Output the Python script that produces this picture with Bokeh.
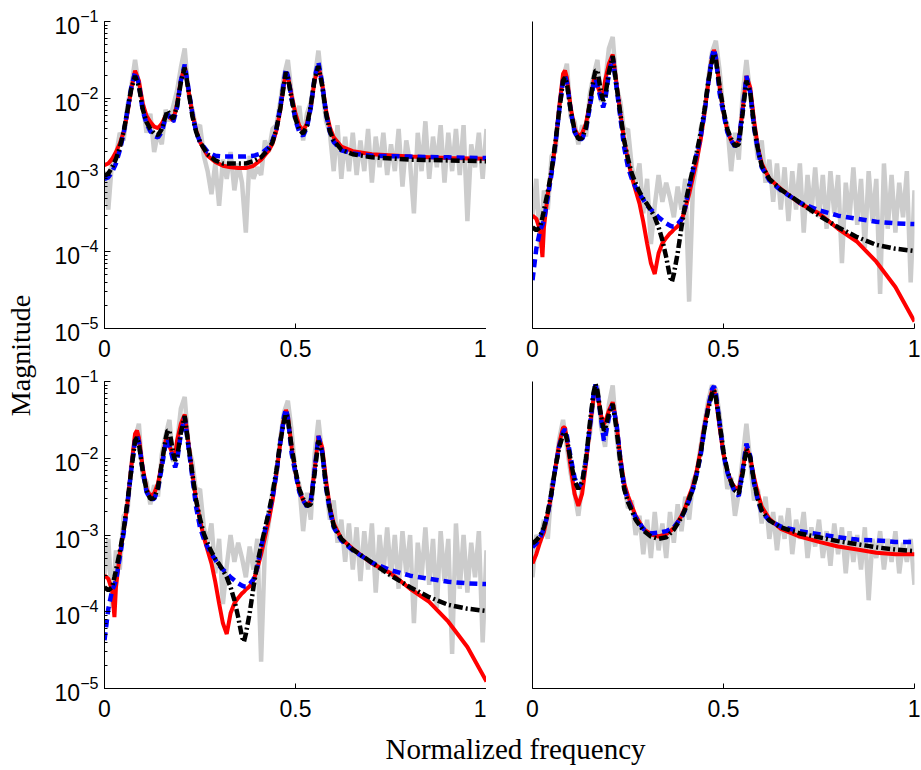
from bokeh.plotting import figure
from bokeh.models import Range1d, FixedTicker, LogTicker, Label
from bokeh.layouts import row, column
from bokeh.embed import file_html
from bokeh.resources import INLINE

# ---------------- data (log10 of magnitude) ----------------
freq_gray = [i / 100 for i in range(101)]

# top-left panel
tl_gray = [-2.95, -3.45, -2.80, -2.75, -2.45, -2.55, -2.10, -1.85, -1.50, -1.85,
           -2.05, -2.45, -2.20, -2.70, -2.45, -2.60, -2.15, -2.30, -2.10, -1.90,
           -1.60, -1.35, -1.95, -2.15, -2.40, -2.35, -2.75, -2.95, -3.25, -2.85,
           -3.40, -2.80, -3.05, -2.70, -3.20, -2.85, -3.10, -3.75, -2.75, -3.05,
           -2.90, -3.00, -2.55, -2.70, -2.40, -2.35, -2.05, -1.70, -1.50, -1.95,
           -2.25, -2.10, -2.55, -2.20, -2.05, -1.75, -1.38, -1.85, -2.30, -2.45,
           -2.95, -2.35, -3.05, -2.50, -2.95, -2.45, -3.00, -2.55, -2.95, -2.40,
           -3.10, -2.50, -2.90, -2.45, -3.00, -2.60, -2.95, -2.40, -3.15, -2.55,
           -2.85, -3.50, -2.45, -2.95, -2.30, -3.05, -2.50, -2.90, -2.35, -3.10,
           -2.45, -2.95, -2.40, -3.00, -2.35, -3.60, -2.60, -2.90, -2.45, -3.05,
           -2.40]
tl_freq = [0, 0.01, 0.02, 0.03, 0.04, 0.05, 0.06, 0.07, 0.08, 0.09, 0.10, 0.11,
           0.12, 0.13, 0.14, 0.15, 0.16, 0.165, 0.17, 0.18, 0.19, 0.20, 0.21, 0.22,
           0.23, 0.24, 0.25, 0.27, 0.29, 0.31, 0.33, 0.35, 0.37, 0.39, 0.41, 0.43,
           0.44, 0.45, 0.46, 0.47, 0.475, 0.48, 0.49, 0.50, 0.51, 0.52, 0.53, 0.54,
           0.55, 0.56, 0.57, 0.58, 0.59, 0.60, 0.62, 0.65, 0.70, 0.80, 0.90, 1.0]
tl_red = [-2.87, -2.85, -2.79, -2.70, -2.59, -2.44, -2.20, -1.88, -1.64, -1.77,
          -2.07, -2.23, -2.31, -2.37, -2.39, -2.33, -2.23, -2.21, -2.25, -2.29,
          -2.07, -1.77, -1.58, -1.90, -2.20, -2.42, -2.57, -2.75, -2.83, -2.88,
          -2.90, -2.91, -2.91, -2.88, -2.80, -2.68, -2.59, -2.42, -2.16, -1.81,
          -1.66, -1.71, -1.97, -2.20, -2.36, -2.42, -2.33, -2.12, -1.77, -1.58,
          -1.81, -2.16, -2.38, -2.51, -2.63, -2.69, -2.73, -2.76, -2.78, -2.79]
tl_blue = [-3.05, -3.03, -2.96, -2.85, -2.68, -2.46, -2.16, -1.86, -1.66, -1.81,
           -2.16, -2.33, -2.43, -2.49, -2.51, -2.44, -2.25, -2.20, -2.24, -2.31,
           -2.12, -1.77, -1.56, -1.88, -2.20, -2.44, -2.57, -2.70, -2.75, -2.76,
           -2.76, -2.76, -2.76, -2.75, -2.72, -2.64, -2.55, -2.40, -2.12, -1.77,
           -1.62, -1.71, -2.01, -2.29, -2.44, -2.49, -2.38, -2.12, -1.73, -1.53,
           -1.81, -2.20, -2.44, -2.57, -2.68, -2.72, -2.75, -2.76, -2.77, -2.78]
tl_black = [-3.01, -2.98, -2.90, -2.79, -2.64, -2.44, -2.16, -1.88, -1.71, -1.84,
            -2.14, -2.31, -2.40, -2.46, -2.48, -2.40, -2.23, -2.16, -2.21, -2.27,
            -2.10, -1.79, -1.60, -1.90, -2.23, -2.44, -2.57, -2.73, -2.81, -2.85,
            -2.85, -2.85, -2.85, -2.82, -2.77, -2.66, -2.57, -2.40, -2.14, -1.81,
            -1.66, -1.73, -2.01, -2.27, -2.41, -2.46, -2.36, -2.10, -1.75, -1.58,
            -1.84, -2.20, -2.43, -2.55, -2.67, -2.73, -2.77, -2.80, -2.81, -2.82]

# top-right panel
tr_gray = [-3.55, -3.05, -3.95, -3.20, -3.45, -2.75, -2.70, -2.10, -1.75, -1.55,
           -2.25, -2.30, -2.60, -2.35, -2.50, -1.95, -1.70, -1.50, -2.05, -1.80,
           -1.35, -1.20, -1.85, -2.05, -2.45, -2.40, -2.90, -3.10, -2.85, -3.50,
           -3.05, -3.90, -3.40, -3.00, -3.35, -3.10, -3.30, -3.55, -3.15, -3.45,
           -3.05, -4.65, -3.15, -2.85, -2.40, -2.20, -1.75, -1.40, -1.25, -1.65,
           -2.20, -2.35, -2.95, -2.45, -2.80, -1.95, -1.50, -1.95, -2.35, -2.80,
           -2.55, -3.10, -2.80, -3.35, -2.85, -3.45, -2.90, -3.60, -2.95, -3.45,
           -2.85, -3.75, -3.00, -3.50, -2.90, -3.55, -3.00, -3.70, -2.95, -3.50,
           -3.00, -4.15, -3.10, -3.55, -2.90, -3.65, -3.05, -3.95, -2.95, -3.60,
           -3.05, -4.55, -2.85, -3.70, -3.00, -3.75, -3.10, -3.55, -2.95, -4.40,
           -3.20]
tr_freq = [0, 0.01, 0.02, 0.026, 0.03, 0.04, 0.05, 0.06, 0.07, 0.08, 0.085, 0.09,
           0.10, 0.11, 0.12, 0.13, 0.14, 0.15, 0.16, 0.165, 0.17, 0.18, 0.185, 0.19,
           0.20, 0.21, 0.22, 0.23, 0.24, 0.25, 0.26, 0.27, 0.28, 0.29, 0.30, 0.31,
           0.32, 0.33, 0.34, 0.35, 0.36, 0.365, 0.37, 0.38, 0.39, 0.40, 0.41, 0.42,
           0.43, 0.44, 0.45, 0.46, 0.47, 0.475, 0.48, 0.49, 0.50, 0.51, 0.52, 0.53,
           0.54, 0.55, 0.56, 0.57, 0.58, 0.59, 0.60, 0.62, 0.65, 0.70, 0.75, 0.80,
           0.85, 0.90, 0.95, 1.0]
tr_red = [-3.53, -3.57, -3.72, -4.07, -3.68, -3.25, -2.96, -2.59, -2.12, -1.68,
          -1.64, -1.73, -2.12, -2.40, -2.49, -2.46, -2.33, -2.07, -1.77, -1.73,
          -1.84, -1.97, -1.97, -1.77, -1.55, -1.43, -1.81, -2.20, -2.55, -2.81,
          -3.03, -3.20, -3.37, -3.61, -3.89, -4.15, -4.29, -4.02, -3.89, -3.82,
          -3.76, -3.74, -3.71, -3.67, -3.59, -3.44, -3.25, -3.03, -2.81, -2.55,
          -2.20, -1.81, -1.47, -1.37, -1.45, -1.86, -2.18, -2.42, -2.55, -2.62,
          -2.55, -2.16, -1.71, -1.86, -2.29, -2.64, -2.85, -3.05, -3.18, -3.37,
          -3.50, -3.70, -3.87, -4.13, -4.46, -4.91]
tr_blue = [-4.37, -3.96, -3.72, -3.65, -3.59, -3.29, -2.98, -2.59, -2.16, -1.77,
           -1.71, -1.79, -2.16, -2.44, -2.53, -2.53, -2.40, -2.12, -1.81, -1.75,
           -1.84, -2.03, -2.12, -2.03, -1.68, -1.47, -1.86, -2.25, -2.64, -2.90,
           -3.05, -3.16, -3.25, -3.32, -3.40, -3.45, -3.50, -3.55, -3.59, -3.63,
           -3.66, -3.67, -3.67, -3.64, -3.58, -3.42, -3.16, -2.94, -2.72, -2.51,
           -2.20, -1.81, -1.45, -1.36, -1.47, -1.94, -2.20, -2.44, -2.55, -2.63,
           -2.55, -2.16, -1.71, -1.92, -2.38, -2.68, -2.90, -3.07, -3.20, -3.36,
           -3.46, -3.53, -3.57, -3.61, -3.63, -3.64]
tr_black = [-3.68, -3.72, -3.68, -3.55, -3.46, -3.22, -2.94, -2.57, -2.16, -1.77,
            -1.73, -1.81, -2.16, -2.42, -2.53, -2.52, -2.38, -2.07, -1.75, -1.64,
            -1.64, -1.94, -2.03, -1.99, -1.66, -1.45, -1.84, -2.20, -2.55, -2.79,
            -2.98, -3.11, -3.22, -3.31, -3.38, -3.46, -3.55, -3.68, -3.85, -4.07,
            -4.33, -4.39, -4.29, -4.02, -3.68, -3.37, -3.14, -2.92, -2.70, -2.46,
            -2.16, -1.79, -1.51, -1.42, -1.49, -1.86, -2.16, -2.40, -2.53, -2.62,
            -2.60, -2.20, -1.77, -1.92, -2.36, -2.66, -2.88, -3.05, -3.19, -3.36,
            -3.53, -3.68, -3.81, -3.91, -3.96, -3.99]

# bottom-left panel (reads the same as the top-right one)
bl_gray = list(tr_gray)
bl_freq = list(tr_freq)
bl_red = list(tr_red)
bl_blue = list(tr_blue)
bl_black = list(tr_black)

# bottom-right panel
br_gray = [-3.55, -3.00, -3.10, -2.80, -3.05, -2.35, -2.15, -1.75, -1.50, -1.85,
           -2.20, -2.45, -2.75, -2.35, -1.95, -1.70, -1.20, -1.05, -1.60, -1.85,
           -1.30, -1.05, -1.70, -2.10, -2.30, -2.65, -2.55, -3.00, -2.75, -3.25,
           -2.80, -3.30, -2.70, -3.20, -2.85, -3.30, -2.70, -3.10, -2.60, -2.95,
           -2.50, -2.80, -2.30, -2.20, -1.85, -1.55, -1.25, -1.05, -1.10, -1.45,
           -1.90, -2.40, -2.25, -2.75, -2.45, -2.00, -1.55, -2.05, -2.55, -2.40,
           -2.85, -2.50, -3.05, -2.70, -3.20, -2.75, -3.05, -2.65, -3.25, -2.80,
           -3.05, -2.70, -3.30, -2.90, -3.15, -2.80, -3.30, -2.95, -3.40, -2.85,
           -3.25, -2.90, -3.50, -2.95, -3.35, -3.00, -3.45, -2.90, -3.85, -3.05,
           -3.30, -2.95, -3.45, -3.05, -3.35, -2.95, -3.50, -3.10, -3.35, -3.05,
           -3.65]
br_freq = [0, 0.01, 0.02, 0.03, 0.04, 0.05, 0.06, 0.07, 0.08, 0.085, 0.09, 0.10,
           0.11, 0.12, 0.13, 0.14, 0.15, 0.16, 0.165, 0.17, 0.18, 0.187, 0.19, 0.20,
           0.21, 0.22, 0.23, 0.24, 0.25, 0.27, 0.29, 0.31, 0.33, 0.35, 0.37, 0.39,
           0.40, 0.41, 0.42, 0.43, 0.44, 0.45, 0.46, 0.47, 0.475, 0.48, 0.49, 0.50,
           0.51, 0.52, 0.53, 0.54, 0.55, 0.56, 0.57, 0.58, 0.59, 0.60, 0.62, 0.65,
           0.70, 0.75, 0.80, 0.85, 0.90, 0.95, 1.0]
br_red = [-3.37, -3.25, -3.09, -2.96, -2.72, -2.46, -2.12, -1.81, -1.60, -1.60,
          -1.75, -2.12, -2.46, -2.62, -2.46, -2.07, -1.60, -1.21, -1.10, -1.17,
          -1.45, -1.55, -1.53, -1.38, -1.27, -1.55, -1.99, -2.33, -2.49, -2.75,
          -2.92, -2.99, -3.02, -2.99, -2.91, -2.75, -2.64, -2.49, -2.36, -2.16,
          -1.90, -1.58, -1.32, -1.12, -1.10, -1.21, -1.60, -1.95, -2.16, -2.31,
          -2.38, -2.40, -2.16, -1.86, -1.99, -2.25, -2.46, -2.63, -2.79, -2.92,
          -3.02, -3.09, -3.15, -3.19, -3.23, -3.25, -3.25]
br_blue = [-3.16, -3.11, -3.03, -2.92, -2.72, -2.46, -2.12, -1.84, -1.66, -1.62,
           -1.71, -1.99, -2.25, -2.38, -2.31, -2.03, -1.60, -1.16, -1.04, -1.14,
           -1.51, -1.77, -1.73, -1.47, -1.30, -1.55, -2.01, -2.38, -2.55, -2.77,
           -2.92, -2.98, -2.97, -2.95, -2.90, -2.77, -2.67, -2.55, -2.40, -2.20,
           -1.97, -1.62, -1.34, -1.10, -1.06, -1.16, -1.55, -1.95, -2.18, -2.33,
           -2.44, -2.49, -2.16, -1.81, -1.97, -2.33, -2.55, -2.70, -2.81, -2.89,
           -2.95, -2.99, -3.03, -3.06, -3.07, -3.09, -3.09]
br_black = [-3.11, -3.07, -3.01, -2.90, -2.70, -2.44, -2.12, -1.86, -1.69, -1.66,
            -1.75, -2.03, -2.29, -2.40, -2.31, -2.01, -1.55, -1.14, -1.03, -1.12,
            -1.47, -1.64, -1.62, -1.42, -1.29, -1.62, -2.05, -2.40, -2.57, -2.80,
            -2.94, -3.02, -3.05, -3.03, -2.93, -2.77, -2.66, -2.53, -2.40, -2.20,
            -1.94, -1.62, -1.36, -1.16, -1.11, -1.21, -1.55, -1.92, -2.16, -2.31,
            -2.42, -2.46, -2.20, -1.88, -1.99, -2.31, -2.53, -2.68, -2.81, -2.90,
            -2.98, -3.03, -3.08, -3.12, -3.16, -3.19, -3.21]

x_ticks = [0, 0.5, 1]
x_tick_labels = {0: "0", 0.5: "0.5", 1: "1"}
y_limits = (1e-5, 1e-1)

# ---------------- styling ----------------
TICK_FONT = "Liberation Sans"
LABEL_FONT = "Liberation Serif"
FRAME_W, FRAME_H = 382, 307


def mag(vals):
    return [10 ** v for v in vals]


def panel(gray, freq, red, blue, black, left_labels, b_left, b_right, b_top, b_bottom):
    p = figure(frame_width=FRAME_W, frame_height=FRAME_H,
               x_range=Range1d(0, 1), y_range=Range1d(*y_limits),
               y_axis_type="log", output_backend="svg", toolbar_location=None,
               min_border_left=b_left, min_border_right=b_right,
               min_border_top=b_top, min_border_bottom=b_bottom)
    p.outline_line_color = None
    p.grid.visible = False
    p.background_fill_color = "white"
    p.border_fill_color = "white"

    p.line(freq_gray, mag(gray), line_color="#cccccc", line_width=4.5)
    p.line(freq, mag(red), line_color="#ff0000", line_width=4)
    p.line(freq, mag(blue), line_color="#0000ff", line_width=4.5, line_dash="8 5")
    p.line(freq, mag(black), line_color="#000000", line_width=4.5, line_dash="9 3 2 3")

    xa = p.xaxis[0]
    xa.ticker = FixedTicker(ticks=x_ticks)
    xa.major_label_overrides = x_tick_labels
    xa.major_tick_in = 5
    xa.major_tick_out = 0
    xa.minor_tick_in = 0
    xa.minor_tick_out = 0
    xa.axis_line_color = "black"
    xa.major_tick_line_color = "black"
    xa.major_label_text_font = TICK_FONT
    xa.major_label_text_font_size = "23px"
    xa.major_label_text_color = "black"
    xa.major_label_standoff = 11

    ya = p.yaxis[0]
    ya.axis_line_color = "black"
    if left_labels:
        ya.ticker = LogTicker(desired_num_ticks=5, num_minor_ticks=10)
        ya.major_tick_in = 6
        ya.major_tick_out = 0
        ya.minor_tick_in = 3
        ya.minor_tick_out = 0
        ya.major_tick_line_color = "black"
        ya.minor_tick_line_color = "black"
        ya.major_label_text_font = TICK_FONT
        ya.major_label_text_font_size = "23px"
        ya.major_label_text_color = "black"
        ya.major_label_standoff = 6
    else:
        ya.major_tick_in = 0
        ya.major_tick_out = 0
        ya.minor_tick_in = 0
        ya.minor_tick_out = 0
        ya.major_tick_line_color = None
        ya.minor_tick_line_color = None
        ya.major_label_text_font_size = "0px"
        ya.major_label_text_color = None
    return p


A = panel(tl_gray, tl_freq, tl_red, tl_blue, tl_black, True, 60, 0, 21, 40)
B = panel(tr_gray, tr_freq, tr_red, tr_blue, tr_black, False, 46, 6, 21, 40)
C = panel(bl_gray, bl_freq, bl_red, bl_blue, bl_black, True, 60, 0, 13, 38)
D = panel(br_gray, br_freq, br_red, br_blue, br_black, False, 46, 6, 13, 38)


def blank(w, h):
    f = figure(width=w, height=h, x_range=Range1d(0, w), y_range=Range1d(0, h),
               output_backend="svg", toolbar_location=None,
               min_border=0, min_border_left=0, min_border_right=0,
               min_border_top=0, min_border_bottom=0)
    f.axis.visible = False
    f.grid.visible = False
    f.outline_line_color = None
    return f


YH = 21 + 307 + 40 + 13 + 307 + 38
ylab = blank(44, YH)
ylab.add_layout(Label(x=20, y=YH - 355, text="Magnitude", angle=1.5707963,
                      text_align="center", text_baseline="middle",
                      text_font=LABEL_FONT, text_font_size="28px",
                      text_color="black"))

XH = 42
xlab = blank(920, XH)
xlab.add_layout(Label(x=515, y=XH - 22, text="Normalized frequency",
                      text_align="center", text_baseline="middle",
                      text_font=LABEL_FONT, text_font_size="29px",
                      text_color="black"))

grid = column(row(A, B), row(C, D))
layout = column(row(ylab, grid), xlab)

html = file_html(layout, INLINE, title="Magnitude vs normalized frequency")
open("out.html", "w").write(html)
